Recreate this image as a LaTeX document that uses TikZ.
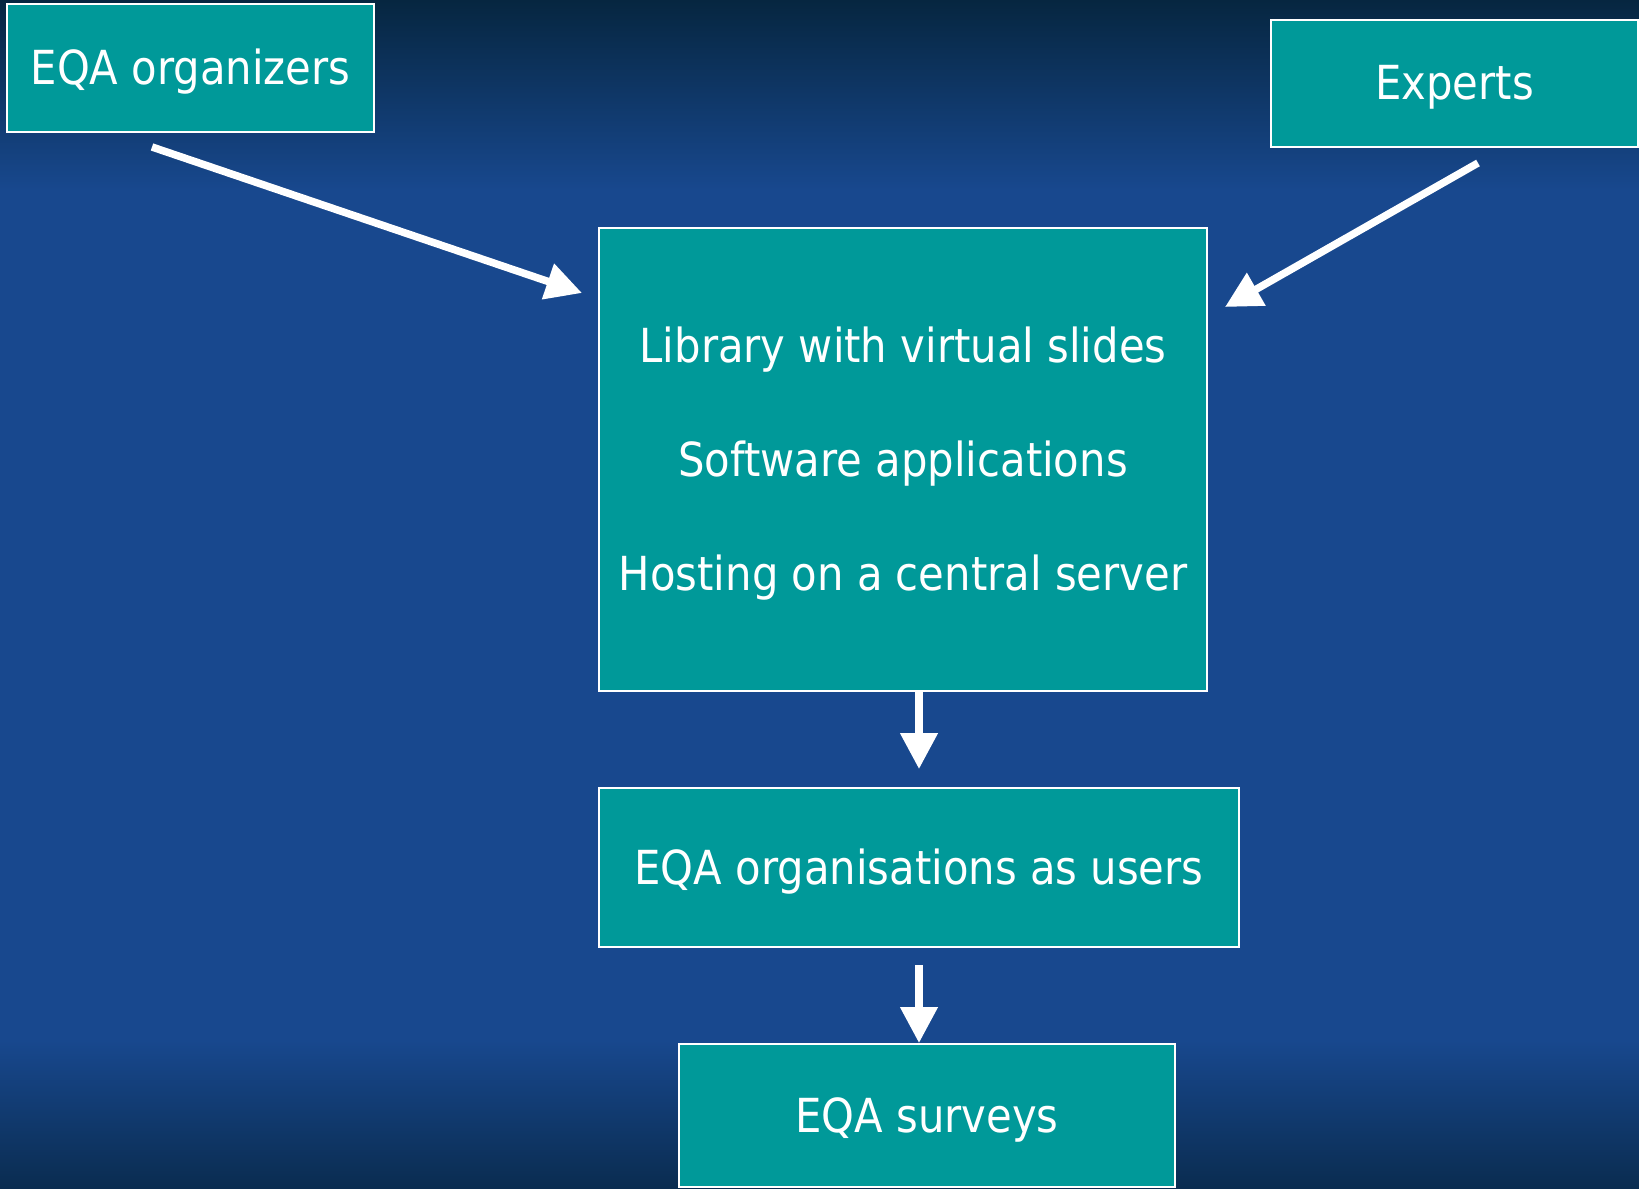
\documentclass[tikz,border=0pt]{standalone}
\usepackage{fontspec}
\setmainfont{DejaVu Sans}[FakeStretch=0.89]
\usepackage{tikz}
\usetikzlibrary{arrows.meta}
\definecolor{boxteal}{RGB}{0,153,153}
\definecolor{bgtop}{RGB}{6,38,64}
\definecolor{bgmid}{RGB}{24,72,142}
\definecolor{bgbot}{RGB}{10,44,80}

\begin{document}
\begin{tikzpicture}[x=0.02cm,y=-0.02cm,
    box/.style={draw=white,line width=1.1pt,fill=boxteal,text=white,inner sep=0pt,
                text depth=1pt,font=\fontsize{26.7}{32}\selectfont},
    flow/.style={-{Triangle[length=0.72cm,width=0.72cm]},draw=white,line width=0.15cm}]
         % background
         \path[use as bounding box] (0,0) rectangle (1639,1189);
         \fill[bgmid] (0,0) rectangle (1639,1189);
         \shade[top color=bgtop,bottom color=bgmid] (0,0) rectangle (1639,190);
         \shade[top color=bgmid,bottom color=bgbot] (0,1040) rectangle (1639,1189);
         % boxes
         \node[box,minimum width=7.34cm,minimum height=2.56cm] (ORG) at (190.5,68) {EQA organizers};
         \node[box,minimum width=7.34cm,minimum height=2.54cm] (EXP) at (1454.5,83.5) {Experts};
         \node[box,minimum width=12.16cm,minimum height=9.26cm,align=center] (LIB) at (903,459.5)
              {Library with virtual slides\\[1.15cm]Software applications\\[1.15cm]Hosting on a central server};
         \node[box,minimum width=12.8cm,minimum height=3.18cm] (USR) at (919,867.5) {EQA organisations as users};
         \node[box,minimum width=9.92cm,minimum height=2.86cm] (SUR) at (927,1115.5) {EQA surveys};
         % arrows
         \coordinate (ORGout) at (152,147);
         \coordinate (LIBinL) at (582,293);
         \coordinate (EXPout) at (1478,163);
         \coordinate (LIBinR) at (1225,307);
         \draw [flow] (ORGout) -- (LIBinL);
         \draw [flow] (EXPout) -- (LIBinR);
         \draw [flow,shorten >=0.36cm] (LIB.south -| USR.north) -- (USR.north);
         \draw [flow,shorten <=0.34cm] (USR.south) -- (USR.south |- SUR.north);
\end{tikzpicture}
\end{document}
